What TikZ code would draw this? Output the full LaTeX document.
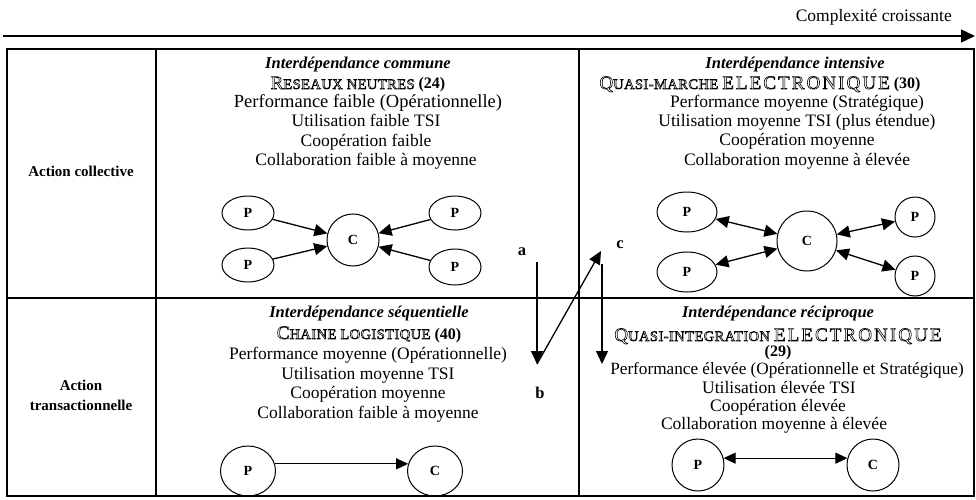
\documentclass[tikz,border=0pt]{standalone}
\usepackage{fontspec}
\setmainfont{Liberation Serif}
\usetikzlibrary{arrows.meta,shapes.geometric}
\newcommand\outl[1]{\special{pdf:literal direct 1 Tr 0.6 w}#1\special{pdf:literal direct 0 Tr}}
\newcommand\bigL[1]{{\fontsize{19}{19}\selectfont\addfontfeature{LetterSpace=3}#1}}
\newcommand\bigW[1]{{\fontsize{19}{19}\selectfont\addfontfeature{LetterSpace=11}#1}}
\newcommand\smL[1]{{\fontsize{14.5}{14.5}\selectfont\addfontfeature{LetterSpace=3}#1}}
\begin{document}
\begin{tikzpicture}[x=1pt,y=-1pt,
  grid/.style={line width=1.4pt},
  body/.style={anchor=base,inner sep=0,font=\fontsize{17.5}{20}\selectfont},
  hdr/.style={anchor=base,inner sep=0,font=\fontsize{16.5}{20}\selectfont\bfseries\itshape},
  ttl/.style={anchor=base,inner sep=0,font=\fontsize{16}{20}\selectfont},
  side/.style={anchor=base,inner sep=0,font=\fontsize{15}{18}\selectfont\bfseries},
  lab/.style={anchor=base,inner sep=0,font=\fontsize{16.5}{18}\selectfont\bfseries},
  ell/.style={draw,ellipse,line width=1pt,inner sep=0,font=\fontsize{14}{14}\selectfont\bfseries},
  arr/.style={line width=1.3pt,-{Triangle[length=13pt,width=12pt]}},
  darr/.style={line width=1.3pt,{Triangle[length=13pt,width=12pt]}-{Triangle[length=13pt,width=12pt]}}]
\useasboundingbox (0,0) rectangle (976,500);
% top arrow
\coordinate (tl) at (3,36);
\coordinate (tr) at (975,36);
\draw[line width=1.3pt,-{Triangle[length=14pt,width=13pt]}] (tl) -- (tr);
\node[body,anchor=base east] (cx) at (952,22) {Complexité croissante};
% table
\draw[grid] (7,49) rectangle (974,496);
\draw[grid] (156,49) -- (156,496);
\draw[grid] (579,49) -- (579,496);
\draw[grid] (7,298) -- (974,298);
% side labels
\node[side] (ac) at (81,176) {Action collective};
\node[side] (at1) at (81,390) {Action};
\node[side] (at2) at (81,410) {transactionnelle};
% top-left cell
\node[hdr] (h1) at (358,69) {Interdépendance commune};
\node[ttl] (t1) at (358,89) {\outl{\bigL{R}\smL{ESEAUX NEUTRES}} \textbf{(24)}};
\node[body,font=\fontsize{18.5}{20}\selectfont] (l11) at (368,107) {Performance faible (Opérationnelle)};
\node[body] (l12) at (366,127) {Utilisation faible TSI};
\node[body] (l13) at (366,146) {Coopération faible};
\node[body] (l14) at (366,165) {Collaboration faible à moyenne};
% top-right cell
\node[hdr] (h2) at (795,69) {Interdépendance intensive};
\node[ttl] (t2) at (760,89) {\outl{\bigL{Q}\smL{UASI-MARCHE} \bigW{ELECTRONIQUE}} \textbf{(30)}};
\node[body] (l21) at (797,107) {Performance moyenne (Stratégique)};
\node[body] (l22) at (797,126) {Utilisation moyenne TSI (plus étendue)};
\node[body] (l23) at (797,145) {Coopération moyenne};
\node[body] (l24) at (797,165) {Collaboration moyenne à élevée};
% bottom-left cell
\node[hdr] (h3) at (369,317) {Interdépendance séquentielle};
\node[ttl] (t3) at (369,339) {\outl{\bigL{C}\smL{HAINE LOGISTIQUE}} \textbf{(40)}};
\node[body] (l31) at (368,359) {Performance moyenne (Opérationnelle)};
\node[body] (l32) at (368,379) {Utilisation moyenne TSI};
\node[body] (l33) at (368,398) {Coopération moyenne};
\node[body] (l34) at (368,418) {Collaboration faible à moyenne};
% bottom-right cell
\node[hdr] (h4) at (778,317) {Interdépendance réciproque};
\node[ttl] (t4) at (778,341) {\outl{\bigL{Q}\smL{UASI-INTEGRATION} \bigW{ELECTRONIQUE}}};
\node[ttl,font=\fontsize{16}{20}\selectfont\bfseries] (t4b) at (778,356) {(29)};
\node[body,font=\fontsize{17.2}{20}\selectfont] (l41) at (787,374) {Performance élevée (Opérationnelle et Stratégique)};
\node[body] (l42) at (779,393) {Utilisation élevée TSI};
\node[body] (l43) at (778,411) {Coopération élevée};
\node[body] (l44) at (774,429) {Collaboration moyenne à élevée};
% top-left diagram
\node[ell,minimum width=52pt,minimum height=34pt] (p1) at (248,213) {P};
\node[ell,minimum width=52pt,minimum height=34pt] (p2) at (248,265) {P};
\node[ell,circle,minimum size=52pt] (c1) at (353,240) {C};
\node[ell,minimum width=52pt,minimum height=34pt] (p3) at (455,213) {P};
\node[ell,minimum width=52pt,minimum height=36pt] (p4) at (455,267) {P};
\draw[arr] (p1) -- (c1);
\draw[arr] (p2) -- (c1);
\draw[arr] (p3) -- (c1);
\draw[arr] (p4) -- (c1);
% top-right diagram
\node[ell,minimum width=60pt,minimum height=40pt] (p5) at (687,212) {P};
\node[ell,minimum width=60pt,minimum height=40pt] (p6) at (687,272) {P};
\node[ell,circle,minimum size=60pt] (c2) at (807,241) {C};
\node[ell,circle,minimum size=40pt] (p7) at (915,217) {P};
\node[ell,circle,minimum size=40pt] (p8) at (915,276) {P};
\draw[darr] (p5) -- (c2);
\draw[darr] (p6) -- (c2);
\draw[darr] (p7) -- (c2);
\draw[darr] (p8) -- (c2);
% bottom-left diagram
\node[ell,minimum width=55pt,minimum height=50pt] (p9) at (248,471) {P};
\node[ell,minimum width=55pt,minimum height=50pt] (c3) at (435,471) {C};
\draw[line width=1pt,-{Triangle[length=12pt,width=11pt]}] (p9.15) -- (c3.165);
% bottom-right diagram
\node[ell,circle,minimum size=52pt] (p10) at (698,465) {P};
\node[ell,circle,minimum size=52pt] (c4) at (873,465) {C};
\draw[line width=1pt,{Triangle[length=12pt,width=11pt]}-{Triangle[length=12pt,width=11pt]}] (p10.15) -- (c4.165);
% a b c arrows
\node[lab] (la) at (522,255) {a};
\node[lab] (lb) at (540,398) {b};
\node[lab] (lc) at (620,248) {c};
\coordinate (aTop) at (537,262);
\coordinate (bPt) at (537,364);
\coordinate (cPt) at (601,251);
\coordinate (cTop) at (602,264);
\coordinate (cBot) at (602,364);
\draw[arr] (aTop) -- (bPt);
\draw[arr] (bPt) -- (cPt);
\draw[arr] (cTop) -- (cBot);
\end{tikzpicture}
\end{document}
